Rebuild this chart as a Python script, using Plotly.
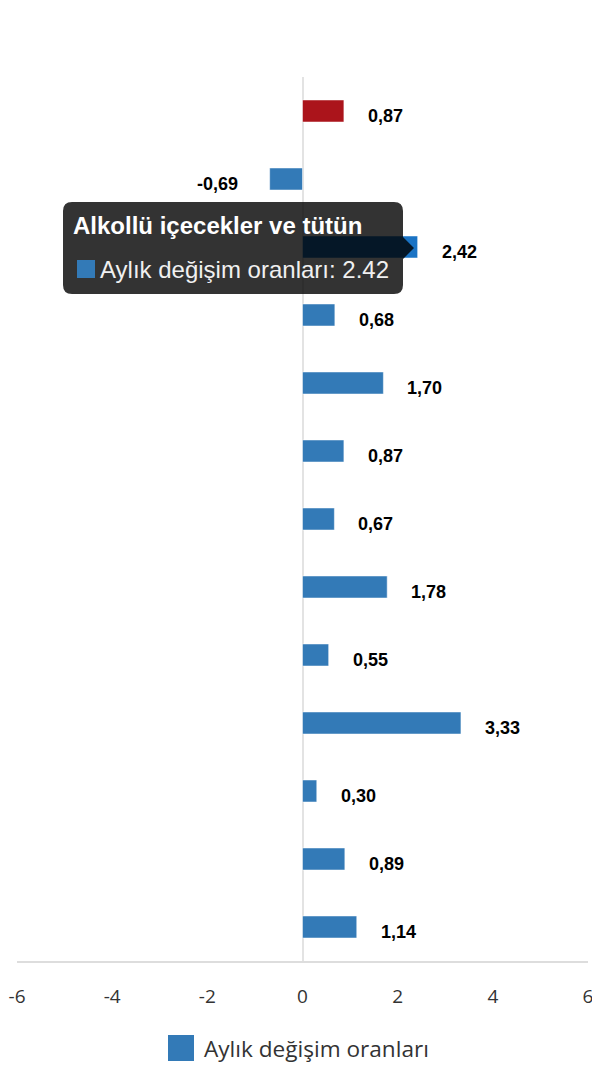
import plotly.graph_objects as go

# Monthly change by main expenditure group
categories = [
    "Genel",
    "Gıda ve alkolsüz içecekler",
    "Alkollü içecekler ve tütün",
    "Giyim ve ayakkabı",
    "Konut",
    "Mobilya, ev aletleri ve ev bakım hizmetleri",
    "Sağlık",
    "Ulaştırma",
    "Haberleşme",
    "Eğlence ve kültür",
    "Eğitim",
    "Lokanta ve oteller",
    "Çeşitli mal ve hizmetler",
]
values = [0.87, -0.69, 2.42, 0.68, 1.70, 0.87, 0.67, 1.78, 0.55, 3.33, 0.30, 0.89, 1.14]
series_name = "Aylık değişim oranları"
x_ticks = [-6, -4, -2, 0, 2, 4, 6]
x_tick_text = ["-6", "-4", "-2", "0", "2", "4", "6"]

BLUE = "#337ab7"
RED = "#ab141b"
HOVER_BLUE = "#1a73c4"
hovered = 2

# page body has an 8px margin, so the figure sits at (8, 8) in the window
OFF = 8
W, H = 588, 1064
L, R, T, B = 9, 8, 69, 111
PW, PH = W - L - R, H - T - B


def px(x):
    # window pixel -> paper x
    return (x - OFF - L) / PW


def py(y):
    # window pixel -> paper y
    return (OFF + H - B - y) / PH


colors = [BLUE] * len(values)
colors[0] = RED
colors[hovered] = HOVER_BLUE

fig = go.Figure()
fig.add_trace(go.Bar(
    x=values, y=categories, orientation="h",
    marker=dict(color=colors, line=dict(color="rgba(255,255,255,0.5)", width=1)),
    name=series_name, showlegend=False,
))

# data labels
for c, v in zip(categories, values):
    fig.add_annotation(
        x=v, y=c, xref="x", yref="y",
        text="<b>" + f"{v:.2f}".replace(".", ",") + "</b>",
        showarrow=False, xanchor="left" if v >= 0 else "right",
        xshift=22 if v >= 0 else -30, yshift=-5,
        font=dict(family="Liberation Sans, Arial", size=18, color="#000000"),
    )

# tooltip box with pointer
x0, x1, y0, y1, r = 63, 403, 202, 294, 9
tip_x, tip_y = 414, 248
pts = (
    f"M {px(x0 + r)},{py(y0)} L {px(x1 - r)},{py(y0)} "
    f"Q {px(x1)},{py(y0)} {px(x1)},{py(y0 + r)} "
    f"L {px(x1)},{py(tip_y - 11)} L {px(tip_x)},{py(tip_y)} L {px(x1)},{py(tip_y + 11)} "
    f"L {px(x1)},{py(y1 - r)} Q {px(x1)},{py(y1)} {px(x1 - r)},{py(y1)} "
    f"L {px(x0 + r)},{py(y1)} Q {px(x0)},{py(y1)} {px(x0)},{py(y1 - r)} "
    f"L {px(x0)},{py(y0 + r)} Q {px(x0)},{py(y0)} {px(x0 + r)},{py(y0)} Z"
)
fig.add_shape(type="path", path=pts, xref="paper", yref="paper",
              fillcolor="rgba(0,0,0,0.8)", line=dict(width=0), layer="above")
fig.add_annotation(
    x=px(71), y=py(226), xref="paper", yref="paper", xanchor="left", yanchor="middle",
    text="<b>" + categories[hovered] + "</b>", showarrow=False,
    font=dict(family="Liberation Sans, Arial", size=24, color="#ffffff"),
)
fig.add_shape(type="rect", xref="paper", yref="paper",
              x0=px(77), x1=px(95), y0=py(278), y1=py(260),
              fillcolor=BLUE, line=dict(width=0), layer="above")
fig.add_annotation(
    x=px(98), y=py(269), xref="paper", yref="paper", xanchor="left", yanchor="middle",
    text=f"{series_name}: {values[hovered]}", showarrow=False,
    font=dict(family="Liberation Sans, Arial", size=24, color="#f0f0f0"),
)

# legend
fig.add_shape(type="rect", xref="paper", yref="paper",
              x0=px(168), x1=px(194), y0=py(1061), y1=py(1035),
              fillcolor=BLUE, line=dict(width=0))
fig.add_annotation(
    x=px(202), y=py(1048), xref="paper", yref="paper", xanchor="left", yanchor="middle",
    text=series_name, showarrow=False,
    font=dict(family="Open Sans, Noto Sans", size=22.6, color="#333333"),
)

fig.update_xaxes(
    range=[-6, 6], tickvals=x_ticks, ticktext=x_tick_text, showgrid=False,
    zeroline=True, zerolinecolor="#e3e3e3", zerolinewidth=2,
    showline=True, linecolor="#dddddd", linewidth=1.5,
    tickfont=dict(family="Open Sans, Noto Sans", size=19, color="#333333"),
    ticklabelstandoff=17, ticklabeloverflow="allow", automargin=False,
    fixedrange=True,
)
fig.update_yaxes(autorange="reversed", showticklabels=False, showgrid=False,
                 showline=False, fixedrange=True, automargin=False)
fig.update_layout(
    width=W, height=H, margin=dict(l=L, r=R, t=T, b=B),
    plot_bgcolor="white", paper_bgcolor="white",
    bargap=0.676, showlegend=False,
)

fig.write_html("out.html")
